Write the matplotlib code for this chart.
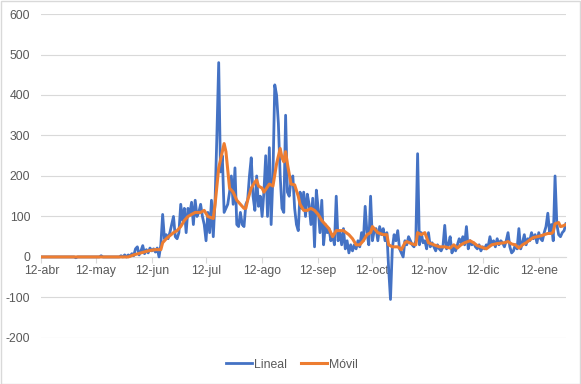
import matplotlib.pyplot as plt
import pandas as pd
from matplotlib.patches import Rectangle

start_date = "2020-04-12"

# daily values of the "Lineal" series (12-abr-2020 .. 27-ene-2021)
lineal = [
    0, 0, 0, 0, 0, 0, 0, 0, 0, 0,
    0, 0, 0, 0, 0, 0, 0, 0, 0, -2,
    0, 0, 0, 0, 0, 0, 0, 0, 0, 0,
    0, 0, 0, 3, 0, 0, 0, 0, 0, 0,
    0, 0, 0, 0, 3, 0, 5, 0, 5, 2,
    8, 3, 20, 25, 5, 15, 28, 8, 18, 10,
    22, 15, 20, 12, 22, 0, 30, 105, 45, 55,
    45, 60, 80, 100, 50, 45, 60, 130, 90, 120,
    60, 120, 105, 135, 80, 140, 100, 110, 130, 100,
    80, 40, 110, 60, 140, 50, 140, 300, 480, 210,
    250, 110, 120, 130, 160, 200, 130, 220, 80, 75,
    110, 80, 75, 130, 140, 200, 245, 150, 115, 200,
    125, 150, 100, 160, 250, 100, 270, 80, 200, 425,
    400, 330, 200, 120, 110, 350, 160, 150, 190, 200,
    120, 80, 65, 160, 120, 160, 100, 155, 130, 80,
    145, 25, 165, 120, 60, 140, 30, 80, 60, 70,
    40, 55, 30, 150, 40, 60, 30, 70, 20, 40,
    10, 30, 15, 30, 20, 40, 25, 60, 40, 125,
    60, 30, 150, 40, 65, 70, 40, 75, 55, 70,
    40, 60, -30, -105, 20, 55, 40, 65, 20, 10,
    0, 40, 30, 50, 40, 30, 25, 40, 255, 30,
    60, 35, 40, 20, 60, 25, 35, 25, 15, 30,
    20, 15, 25, 78, 20, 30, 50, 10, 25, 15,
    30, 45, 35, 50, 30, 75, 20, 40, 30, 35,
    25, 20, 30, 15, 25, 20, 30, 25, 50, 30,
    40, 25, 45, 30, 40, 35, 25, 40, 60, 25,
    10, 15, 30, 20, 70, 20, 35, 55, 30, 45,
    40, 60, 45, 55, 35, 60, 45, 40, 60, 75,
    108, 60, 80, 40, 200, 80, 55, 50, 60, 65,
    82,
]

# "Movil" series, read at the days where its shape changes (day number from start)
movil_day = [0, 48, 51, 55, 59, 63, 66, 67, 69, 73, 75, 77, 79, 81, 85, 88, 90, 92, 95,
             96, 98, 100, 101, 102, 104, 106, 108, 110, 112, 113, 114, 116, 118, 119, 120,
             122, 123, 126, 128, 130, 132, 133, 134, 135, 136, 138, 140, 142, 143, 145,
             147, 149, 151, 153, 155, 157, 159, 161, 163, 167, 170, 172, 174, 176, 178,
             180, 182, 183, 184, 186, 189, 191, 192, 194, 197, 199, 201, 202, 205, 207,
             208, 210, 212, 214, 217, 220, 223, 226, 228, 230, 232, 234, 237, 239, 241,
             243, 246, 249, 252, 256, 258, 260, 262, 264, 266, 268, 270, 272, 274, 276,
             278, 280, 282, 283, 284, 286, 287, 288, 290]
movil = [0, 0, 5, 10, 15, 18, 18, 35, 45, 60, 65, 75, 90, 100, 110, 110, 115, 100, 95,
         130, 220, 260, 280, 260, 170, 160, 140, 130, 120, 120, 140, 170, 185, 190, 175,
         170, 160, 180, 175, 230, 268, 245, 235, 260, 230, 180, 178, 150, 130, 115,
         115, 120, 115, 105, 90, 80, 70, 50, 65, 65, 55, 45, 30, 30, 40,
         55, 60, 75, 70, 60, 55, 55, 30, 25, 25, 18, 35, 38, 32, 30,
         60, 55, 60, 35, 30, 25, 25, 22, 30, 22, 30, 35, 40, 35, 28,
         25, 20, 30, 33, 35, 38, 32, 30, 22, 30, 35, 42, 48, 50, 52,
         55, 58, 58, 62, 82, 85, 75, 76, 80]

tick_dates = ["2020-04-12", "2020-05-12", "2020-06-12", "2020-07-12", "2020-08-12",
              "2020-09-12", "2020-10-12", "2020-11-12", "2020-12-12", "2021-01-12"]
tick_labels = ["12-abr", "12-may", "12-jun", "12-jul", "12-ago",
               "12-sep", "12-oct", "12-nov", "12-dic", "12-ene"]

plt.rcParams["font.family"] = ["Liberation Sans", "DejaVu Sans"]
plt.rcParams["axes.unicode_minus"] = False
grey = "#595959"

start = pd.Timestamp(start_date)
tick_pos = [(pd.Timestamp(t) - start).days for t in tick_dates]

fig = plt.figure(figsize=(5.81, 3.84), dpi=100)
ax = fig.add_axes([0.0714, 0.12, 0.9026, 0.8435])

ax.plot(range(len(lineal)), lineal, color="#4472C4", linewidth=2.0, label="Lineal",
        solid_joinstyle="round", zorder=3)
ax.plot(movil_day, movil, color="#ED7D31", linewidth=2.2, label="Móvil",
        solid_joinstyle="round", zorder=4)

ax.set_xlim(0, len(lineal) - 1)
ax.set_ylim(-200, 600)
ax.set_yticks(range(-200, 601, 100))
ax.grid(axis="y", color="#d9d9d9", linewidth=0.8)
ax.set_axisbelow(True)

for s in ["top", "right", "left"]:
    ax.spines[s].set_visible(False)
ax.spines["bottom"].set_position(("data", 0))
ax.spines["bottom"].set_color("#d9d9d9")
ax.spines["bottom"].set_linewidth(0.8)

ax.set_xticks(tick_pos)
ax.set_xticklabels(tick_labels)
ax.tick_params(axis="x", direction="out", length=4, color="#d9d9d9", labelcolor=grey,
               labelsize=8.8, pad=2)
ax.tick_params(axis="y", length=0, labelcolor=grey, labelsize=8.8, pad=8)

ax.legend(loc="lower center", bbox_to_anchor=(0.478, -0.135), ncol=2, frameon=False,
          fontsize=8.8, labelcolor=grey, handlelength=2.1, handletextpad=0.2,
          columnspacing=1.1)

fig.patches.append(Rectangle((0.001, 0.001), 0.997, 0.997, transform=fig.transFigure,
                             fill=False, edgecolor="#d9d9d9", linewidth=1))

fig.savefig("out.png", dpi=100)
